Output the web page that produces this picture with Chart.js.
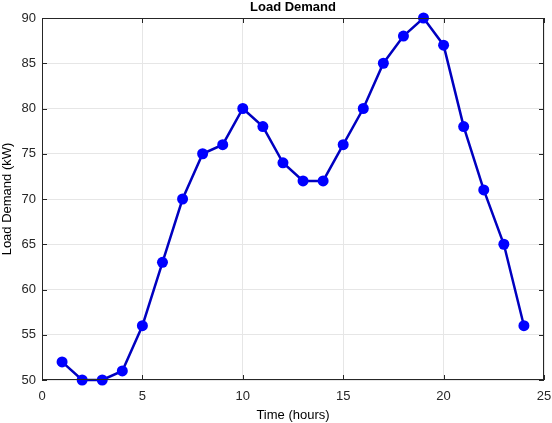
<!DOCTYPE html>
<html>
<head>
<meta charset="utf-8">
<script src="https://cdn.jsdelivr.net/npm/chart.js@4"></script>
<style>
  html, body { margin: 0; padding: 0; background: #fff; }
  #wrap { width: 552px; height: 423px; }
</style>
</head>
<body>
<div id="wrap"><canvas id="loadChart" width="552" height="423"></canvas></div>
<script>
// Data
const hours = [1, 2, 3, 4, 5, 6, 7, 8, 9, 10, 11, 12, 13, 14, 15, 16, 17, 18, 19, 20, 21, 22, 23, 24];
const loadKw = [52, 50, 50, 51, 56, 63, 70, 75, 76, 80, 78, 74, 72, 72, 76, 80, 85, 88, 90, 87, 78, 71, 65, 56];
const xTicks = [0, 5, 10, 15, 20, 25];
const yTicks = [50, 55, 60, 65, 70, 75, 80, 85, 90];
const chartTitle = 'Load Demand';

const FONT = '"Liberation Sans", Arial, sans-serif';

// Frame box + inward ticks on all four sides, title centred over the plot
const framePlugin = {
    id: 'frame',
    afterDraw(chart) {
        const { ctx, chartArea: a, scales } = chart;
        ctx.save();
        ctx.strokeStyle = '#262626';
        ctx.lineWidth = 1;
        ctx.strokeRect(a.left + 0.5, a.top + 0.5, a.right - a.left - 1, a.bottom - a.top - 1);
        ctx.beginPath();
        xTicks.forEach(v => {
            const x = Math.round(scales.x.getPixelForValue(v)) + 0.5;
            ctx.moveTo(x, a.bottom); ctx.lineTo(x, a.bottom - 5);
            ctx.moveTo(x, a.top); ctx.lineTo(x, a.top + 5);
        });
        yTicks.forEach(v => {
            const y = Math.round(scales.y.getPixelForValue(v)) + 0.5;
            ctx.moveTo(a.left, y); ctx.lineTo(a.left + 5, y);
            ctx.moveTo(a.right, y); ctx.lineTo(a.right - 5, y);
        });
        ctx.stroke();

        ctx.fillStyle = '#000';
        ctx.font = 'bold 13px ' + FONT;
        ctx.textAlign = 'center';
        ctx.textBaseline = 'middle';
        ctx.fillText(chartTitle, (a.left + a.right) / 2, 7);
        ctx.restore();
    }
};

new Chart(document.getElementById('loadChart'), {
    type: 'line',
    data: {
        datasets: [{
            data: hours.map((h, i) => ({ x: h, y: loadKw[i] })),
            borderColor: '#0000c0',
            borderWidth: 2.5,
            backgroundColor: '#0000ff',
            pointBackgroundColor: '#0000ff',
            pointBorderColor: '#0000ff',
            pointRadius: 5.5,
            pointBorderWidth: 0,
            tension: 0,
            fill: false,
            clip: false
        }]
    },
    options: {
        responsive: false,
        animation: false,
        layout: { padding: { left: 0, right: 8, top: 18, bottom: 0 } },
        plugins: {
            legend: { display: false },
            tooltip: { enabled: false },
            title: { display: false }
        },
        scales: {
            x: {
                type: 'linear',
                min: 0,
                max: 25,
                afterBuildTicks: s => { s.ticks = xTicks.map(v => ({ value: v })); },
                afterFit: s => { s.height = 43; s.paddingLeft = 0; s.paddingRight = 0; },
                grid: { color: '#e6e6e6', drawTicks: false },
                border: { display: false },
                ticks: { color: '#262626', padding: 9, font: { family: FONT, size: 13 } },
                title: {
                    display: true,
                    text: 'Time (hours)',
                    color: '#000',
                    padding: { top: 2, bottom: 0 },
                    font: { family: FONT, size: 13 }
                }
            },
            y: {
                min: 50,
                max: 90,
                afterBuildTicks: s => { s.ticks = yTicks.map(v => ({ value: v })); },
                afterFit: s => { s.width = 42; s.paddingTop = 0; s.paddingBottom = 0; },
                grid: { color: '#e6e6e6', drawTicks: false },
                border: { display: false },
                ticks: { color: '#262626', padding: 6, font: { family: FONT, size: 13 } },
                title: {
                    display: true,
                    text: 'Load Demand (kW)',
                    color: '#000',
                    padding: { top: 0, bottom: 2 },
                    font: { family: FONT, size: 13 }
                }
            }
        }
    },
    plugins: [framePlugin]
});
</script>
</body>
</html>
